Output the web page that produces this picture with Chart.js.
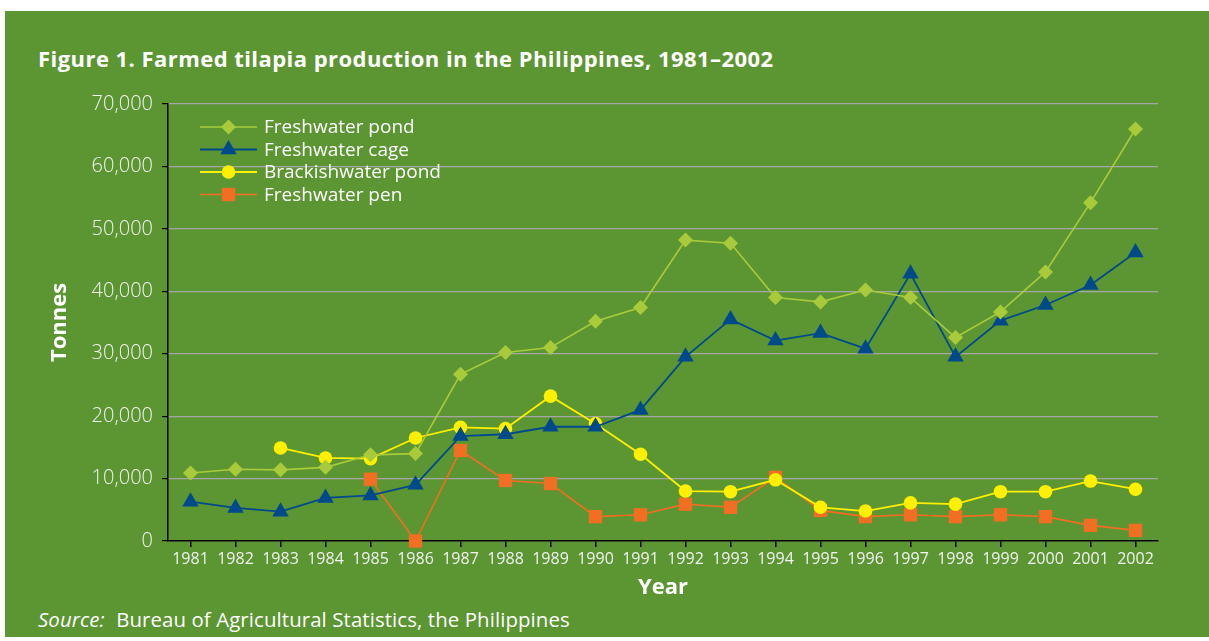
<!DOCTYPE html>
<html>
<head>
<meta charset="utf-8">
<script src="https://cdn.jsdelivr.net/npm/chart.js@4/dist/chart.umd.min.js"></script>
<style>
  html, body { margin: 0; padding: 0; background: #fff; }
  #panel { position: absolute; left: 5px; top: 11px; width: 1204px; height: 626px; background: #5c9632; }
  #chart { position: absolute; left: 0; top: 0; }
  .title { position: absolute; left: 38px; top: 45px; font: bold 22px "Open Sans"; line-height: 26px; letter-spacing: 0.45px; color: #fff; white-space: nowrap; }
  .source { position: absolute; left: 38px; top: 606px; font: 20.4px "Open Sans"; line-height: 26px; letter-spacing: 0.1px; color: #fff; white-space: nowrap; }
  .source i { margin-right: 6px; }
</style>
</head>
<body>
<div id="panel"></div>
<div class="title">Figure 1. Farmed tilapia production in the Philippines, 1981–2002</div>
<div class="source"><i>Source:</i> Bureau of Agricultural Statistics, the Philippines</div>
<canvas id="chart" width="1209" height="641"></canvas>
<script>
const years = ['1981', '1982', '1983', '1984', '1985', '1986', '1987', '1988', '1989', '1990', '1991',
               '1992', '1993', '1994', '1995', '1996', '1997', '1998', '1999', '2000', '2001', '2002'];
const freshwaterPond = [10900, 11500, 11400, 11800, 13800, 14000, 26700, 30200, 31000, 35200, 37400,
                        48200, 47700, 39000, 38300, 40200, 39000, 32600, 36700, 43100, 54200, 66000];
const freshwaterCage = [6300, 5300, 4700, 6900, 7300, 9000, 16800, 17100, 18300, 18300, 21000,
                        29500, 35500, 32100, 33300, 30800, 42800, 29500, 35300, 37800, 41000, 46200];
const brackishwaterPond = [null, null, 14900, 13300, 13200, 16500, 18200, 18000, 23200, 18800, 13900,
                           8000, 7900, 9800, 5400, 4800, 6100, 5900, 7900, 7900, 9600, 8300];
const freshwaterPen = [null, null, null, null, 9900, 0, 14500, 9700, 9200, 3900, 4200,
                       5900, 5400, 10200, 4900, 3900, 4200, 3900, 4200, 3900, 2500, 1700];
const yMax = 70000;
const yStep = 10000;

function drawMarker(ctx, style, x, y, r) {
  ctx.beginPath();
  if (style === 'rectRot') {
    ctx.moveTo(x - r, y); ctx.lineTo(x, y - r); ctx.lineTo(x + r, y); ctx.lineTo(x, y + r);
  } else if (style === 'triangle') {
    for (let k = 0; k < 3; k++) {
      const a = k * 2 * Math.PI / 3;
      const px = x + Math.sin(a) * r, py = y - Math.cos(a) * r;
      if (k === 0) ctx.moveTo(px, py); else ctx.lineTo(px, py);
    }
  } else if (style === 'rect') {
    const s = Math.SQRT1_2 * r;
    ctx.rect(x - s, y - s, 2 * s, 2 * s);
  } else {
    ctx.arc(x, y, r, 0, Math.PI * 2);
  }
  ctx.closePath();
  ctx.fill();
}

// legend drawn inside the plot, line + marker like the original
const insideLegend = {
  id: 'insideLegend',
  afterDraw(chart) {
    const ctx = chart.ctx;
    const area = chart.chartArea;
    ctx.save();
    chart.data.datasets.forEach((ds, i) => {
      const y = area.top + 23 + i * 22.5;
      const x0 = area.left + 32;
      ctx.strokeStyle = ds.borderColor;
      ctx.lineWidth = ds.borderWidth;
      ctx.beginPath();
      ctx.moveTo(x0, y);
      ctx.lineTo(x0 + 57, y);
      ctx.stroke();
      ctx.fillStyle = ds.pointBackgroundColor;
      drawMarker(ctx, ds.pointStyle, x0 + 28.5, y, ds.pointRadius);
      ctx.fillStyle = '#ffffff';
      ctx.font = '19px "Open Sans"';
      ctx.textBaseline = 'middle';
      ctx.fillText(ds.label, x0 + 64, y + 1);
    });
    ctx.restore();
  }
};

function series(label, data, color, style, radius, width) {
  return {
    label: label,
    data: data,
    borderColor: color,
    backgroundColor: color,
    borderWidth: width,
    pointStyle: style,
    pointRadius: radius,
    pointHoverRadius: radius,
    pointBackgroundColor: color,
    pointBorderColor: color,
    pointBorderWidth: 0,
    tension: 0,
    clip: false
  };
}

new Chart(document.getElementById('chart'), {
  type: 'line',
  data: {
    labels: years,
    datasets: [
      series('Freshwater pond', freshwaterPond, '#a9cb3b', 'rectRot', 7.5, 1.6),
      series('Freshwater cage', freshwaterCage, '#004a8c', 'triangle', 9.5, 1.8),
      series('Brackishwater pond', brackishwaterPond, '#fff000', 'circle', 6.8, 1.8),
      series('Freshwater pen', freshwaterPen, '#f26e22', 'rect', 9.4, 1.6)
    ]
  },
  options: {
    responsive: false,
    animation: false,
    layout: { padding: { top: 104, right: 51, left: 0, bottom: 0 } },
    plugins: {
      legend: { display: false },
      tooltip: { enabled: false }
    },
    scales: {
      x: {
        offset: true,
        afterFit(scale) { scale.height = 100; },
        grid: { drawOnChartArea: false, tickColor: '#000', tickLength: 6, lineWidth: 1.5 },
        border: { display: true, color: '#000', width: 1.5 },
        ticks: { color: '#f2f2f2', font: { family: 'Open Sans', size: 16 }, padding: 3, maxRotation: 0, autoSkip: false },
        title: { display: true, text: 'Year', color: '#fff', font: { family: 'Open Sans', size: 22, weight: 'bold' }, padding: { top: 0, bottom: 40 } }
      },
      y: {
        min: 0,
        max: yMax,
        afterFit(scale) { scale.width = 168; },
        grid: { color: '#a6a6a6', lineWidth: 1.2, tickColor: '#000', tickLength: 6 },
        border: { display: true, color: '#000', width: 1.5 },
        ticks: {
          stepSize: yStep,
          color: '#f2f2f2',
          font: { family: 'Open Sans', size: 20, weight: 300 },
          padding: 9,
          callback: v => v.toLocaleString('en-US')
        },
        title: { display: true, text: 'Tonnes', color: '#fff', font: { family: 'Open Sans', size: 22, weight: 'bold' }, padding: { top: 47, bottom: 0 } }
      }
    }
  },
  plugins: [insideLegend]
});
</script>
</body>
</html>
